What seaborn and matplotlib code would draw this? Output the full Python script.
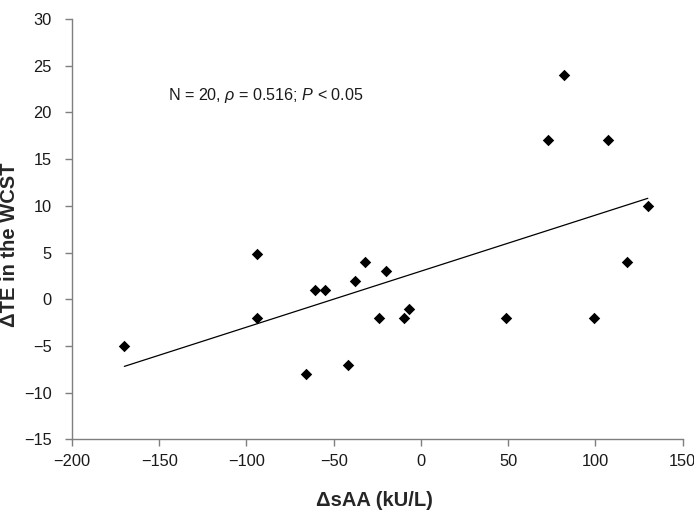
import numpy as np
import pandas as pd
import matplotlib
matplotlib.use("Agg")
import matplotlib.pyplot as plt
import seaborn as sns

# change in salivary alpha-amylase vs change in total errors (WCST)
delta_saa = [-170, -94, -94, -61, -55, -66, -42, -38, -32, -20,
             -24, -9.5, -7, 49, 99, 118, 130, 73, 107, 82]
delta_te = [-5, 4.8, -2, 1, 1, -8, -7, 2, 4, 3,
            -2, -2, -1, -2, -2, 4, 10, 17, 17, 24]

x_ticks = [-200, -150, -100, -50, 0, 50, 100, 150]
y_ticks = [-15, -10, -5, 0, 5, 10, 15, 20, 25, 30]

df = pd.DataFrame({"saa": delta_saa, "te": delta_te})

sns.set_style("white")
plt.rcParams["font.family"] = ["Liberation Sans", "DejaVu Sans"]
plt.rcParams["mathtext.fontset"] = "custom"
plt.rcParams["mathtext.it"] = "Liberation Sans:italic"
plt.rcParams["mathtext.rm"] = "Liberation Sans"

fig = plt.figure(figsize=(6.94, 5.11), dpi=100)
ax = fig.add_axes([0.1037, 0.1403, 0.8800, 0.8225])

sns.regplot(data=df, x="saa", y="te", ax=ax, ci=None, marker="D",
            scatter_kws={"s": 34, "color": "black", "linewidths": 0, "alpha": 1},
            line_kws={"color": "black", "linewidth": 0.9})

ax.set_xlim(-200, 150)
ax.set_ylim(-15, 30)
ax.set_xticks(x_ticks)
ax.set_yticks(y_ticks)
ax.set_xticklabels([str(t).replace("-", "\u2212") for t in x_ticks])
ax.set_yticklabels([str(t).replace("-", "\u2212") for t in y_ticks])

for side in ["top", "right"]:
    ax.spines[side].set_visible(False)
for side in ["left", "bottom"]:
    ax.spines[side].set_color("#7f7f7f")
    ax.spines[side].set_linewidth(1.0)
ax.tick_params(bottom=True, left=True, direction="out", length=5, width=1.0,
               color="#7f7f7f", labelsize=11.8, labelcolor="#1a1a1a")
ax.tick_params(axis="y", pad=9.5)
ax.tick_params(axis="x", pad=5.5)

ax.set_xlabel("\u0394sAA (kU/L)", fontsize=14.5, fontweight="bold")
ax.set_ylabel("\u0394TE in the WCST", fontsize=14.5, fontweight="bold")
ax.xaxis.set_label_coords(0.496, -0.122)
ax.yaxis.set_label_coords(-0.086, 0.462)

ax.text(-145, 21.8, r"N = 20, $\it{\rho}$ = 0.516; $\it{P}$ < 0.05",
        fontsize=11.6, va="center", ha="left", color="#1a1a1a")

fig.savefig("out.png", dpi=100)
